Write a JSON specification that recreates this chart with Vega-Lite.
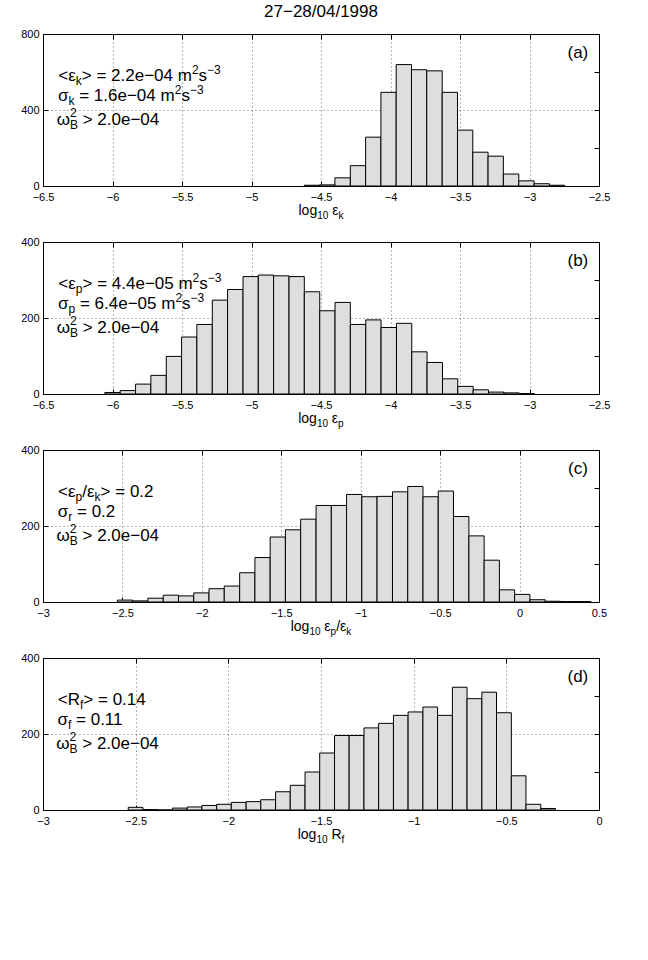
{
  "$schema": "https://vega.github.io/schema/vega-lite/v6.json",
  "background": "white",
  "padding": {"left": 12, "top": 2, "right": 10, "bottom": 10},
  "bounds": "flush",
  "spacing": 56,
  "config": {
    "font": "Liberation Sans",
    "view": {"stroke": "#000", "strokeWidth": 1},
    "axis": {
      "grid": true, "gridColor": "#000", "gridOpacity": 0.6, "gridDash": [1, 3], "gridWidth": 1,
      "domainColor": "#000", "domainWidth": 1,
      "tickColor": "#000", "tickSize": -5, "tickWidth": 1,
      "labelPadding": 9, "labelFont": "Liberation Sans", "labelFontSize": 11, "labelColor": "#000",
      "labelFlush": false, "labelOverlap": false, "labelBound": false
    },
    "axisX": {"labelPadding": 10},
    "text": {"font": "Liberation Sans", "fontSize": 17, "baseline": "alphabetic", "align": "left", "color": "#000"}
  },
  "datasets": {
    "a": [
      {"x0": -4.620, "x1": -4.510, "n": 4}, {"x0": -4.510, "x1": -4.400, "n": 6}, {"x0": -4.400, "x1": -4.289, "n": 43},
      {"x0": -4.289, "x1": -4.179, "n": 107}, {"x0": -4.179, "x1": -4.069, "n": 257}, {"x0": -4.069, "x1": -3.959, "n": 493},
      {"x0": -3.959, "x1": -3.849, "n": 639}, {"x0": -3.849, "x1": -3.739, "n": 612}, {"x0": -3.739, "x1": -3.628, "n": 606},
      {"x0": -3.628, "x1": -3.518, "n": 493}, {"x0": -3.518, "x1": -3.408, "n": 294}, {"x0": -3.408, "x1": -3.298, "n": 178},
      {"x0": -3.298, "x1": -3.188, "n": 157}, {"x0": -3.188, "x1": -3.077, "n": 63}, {"x0": -3.077, "x1": -2.967, "n": 27},
      {"x0": -2.967, "x1": -2.857, "n": 12}, {"x0": -2.857, "x1": -2.747, "n": 4}
    ],
    "b": [
      {"x0": -6.055, "x1": -5.945, "n": 4}, {"x0": -5.945, "x1": -5.834, "n": 9}, {"x0": -5.834, "x1": -5.724, "n": 26},
      {"x0": -5.724, "x1": -5.613, "n": 49}, {"x0": -5.613, "x1": -5.503, "n": 99}, {"x0": -5.503, "x1": -5.393, "n": 150},
      {"x0": -5.393, "x1": -5.282, "n": 183}, {"x0": -5.282, "x1": -5.172, "n": 247}, {"x0": -5.172, "x1": -5.061, "n": 275},
      {"x0": -5.061, "x1": -4.951, "n": 309}, {"x0": -4.951, "x1": -4.841, "n": 313}, {"x0": -4.841, "x1": -4.730, "n": 311},
      {"x0": -4.730, "x1": -4.620, "n": 309}, {"x0": -4.620, "x1": -4.509, "n": 269}, {"x0": -4.509, "x1": -4.399, "n": 219},
      {"x0": -4.399, "x1": -4.289, "n": 241}, {"x0": -4.289, "x1": -4.178, "n": 183}, {"x0": -4.178, "x1": -4.068, "n": 195},
      {"x0": -4.068, "x1": -3.957, "n": 175}, {"x0": -3.957, "x1": -3.847, "n": 186}, {"x0": -3.847, "x1": -3.737, "n": 111},
      {"x0": -3.737, "x1": -3.626, "n": 83}, {"x0": -3.626, "x1": -3.516, "n": 40}, {"x0": -3.516, "x1": -3.405, "n": 20},
      {"x0": -3.405, "x1": -3.295, "n": 11}, {"x0": -3.295, "x1": -3.185, "n": 5}, {"x0": -3.185, "x1": -3.074, "n": 3},
      {"x0": -3.074, "x1": -2.964, "n": 1}
    ],
    "c": [
      {"x0": -2.532, "x1": -2.436, "n": 5}, {"x0": -2.436, "x1": -2.340, "n": 3}, {"x0": -2.340, "x1": -2.243, "n": 10},
      {"x0": -2.243, "x1": -2.147, "n": 18}, {"x0": -2.147, "x1": -2.051, "n": 16}, {"x0": -2.051, "x1": -1.955, "n": 24},
      {"x0": -1.955, "x1": -1.859, "n": 35}, {"x0": -1.859, "x1": -1.762, "n": 42}, {"x0": -1.762, "x1": -1.666, "n": 77},
      {"x0": -1.666, "x1": -1.570, "n": 117}, {"x0": -1.570, "x1": -1.474, "n": 171}, {"x0": -1.474, "x1": -1.378, "n": 190},
      {"x0": -1.378, "x1": -1.281, "n": 218}, {"x0": -1.281, "x1": -1.185, "n": 254}, {"x0": -1.185, "x1": -1.089, "n": 254},
      {"x0": -1.089, "x1": -0.993, "n": 283}, {"x0": -0.993, "x1": -0.897, "n": 277}, {"x0": -0.897, "x1": -0.800, "n": 278},
      {"x0": -0.800, "x1": -0.704, "n": 290}, {"x0": -0.704, "x1": -0.608, "n": 304}, {"x0": -0.608, "x1": -0.512, "n": 277},
      {"x0": -0.512, "x1": -0.416, "n": 292}, {"x0": -0.416, "x1": -0.319, "n": 225}, {"x0": -0.319, "x1": -0.223, "n": 174},
      {"x0": -0.223, "x1": -0.127, "n": 110}, {"x0": -0.127, "x1": -0.031, "n": 32}, {"x0": -0.031, "x1": 0.065, "n": 20},
      {"x0": 0.065, "x1": 0.161, "n": 6}, {"x0": 0.161, "x1": 0.258, "n": 2}, {"x0": 0.258, "x1": 0.354, "n": 1},
      {"x0": 0.354, "x1": 0.450, "n": 1}
    ],
    "d": [
      {"x0": -2.540, "x1": -2.461, "n": 7}, {"x0": -2.461, "x1": -2.381, "n": 1}, {"x0": -2.381, "x1": -2.302, "n": 0},
      {"x0": -2.302, "x1": -2.222, "n": 5}, {"x0": -2.222, "x1": -2.143, "n": 8}, {"x0": -2.143, "x1": -2.063, "n": 12},
      {"x0": -2.063, "x1": -1.984, "n": 15}, {"x0": -1.984, "x1": -1.904, "n": 20}, {"x0": -1.904, "x1": -1.825, "n": 22},
      {"x0": -1.825, "x1": -1.745, "n": 27}, {"x0": -1.745, "x1": -1.666, "n": 48}, {"x0": -1.666, "x1": -1.586, "n": 65},
      {"x0": -1.586, "x1": -1.507, "n": 100}, {"x0": -1.507, "x1": -1.427, "n": 150}, {"x0": -1.427, "x1": -1.348, "n": 196},
      {"x0": -1.348, "x1": -1.268, "n": 196}, {"x0": -1.268, "x1": -1.189, "n": 216}, {"x0": -1.189, "x1": -1.109, "n": 228},
      {"x0": -1.109, "x1": -1.030, "n": 249}, {"x0": -1.030, "x1": -0.950, "n": 258}, {"x0": -0.950, "x1": -0.871, "n": 271},
      {"x0": -0.871, "x1": -0.791, "n": 249}, {"x0": -0.791, "x1": -0.712, "n": 323}, {"x0": -0.712, "x1": -0.632, "n": 293},
      {"x0": -0.632, "x1": -0.553, "n": 310}, {"x0": -0.553, "x1": -0.473, "n": 256}, {"x0": -0.473, "x1": -0.394, "n": 90},
      {"x0": -0.394, "x1": -0.314, "n": 15}, {"x0": -0.314, "x1": -0.235, "n": 4}
    ]
  },
  "vconcat": [
    {
      "width": 556, "height": 152,
      "title": {"text": "27−28/04/1998", "fontSize": 17, "fontWeight": "normal", "font": "Liberation Sans", "color": "#000", "offset": 7},
      "layer": [
        {
          "data": {"values": [{}]},
          "layer": [
            {
              "data": {"name": "a"},
              "mark": {"type": "rect", "fill": "#dedede", "stroke": "#000", "strokeWidth": 1},
              "encoding": {
                "x": {"field": "x0", "type": "quantitative", "scale": {"domain": [-6.5, -2.5], "nice": false, "zero": false},
                      "axis": {"values": [-6.5, -6, -5.5, -5, -4.5, -4, -3.5, -3, -2.5], "format": "~g", "title": null}},
                "x2": {"field": "x1"},
                "y": {"field": "n", "type": "quantitative", "scale": {"domain": [0, 800], "nice": false},
                      "axis": {"values": [0, 200, 400, 600, 800], "title": null, "minExtent": 30, "maxExtent": 30}},
                "y2": {"datum": 0}
              }
            },
            {
              "encoding": {"x": {"datum": -6.39}, "y": {"datum": 555}},
              "layer": [
                {"mark": {"type": "text", "text": "<ε", "align": "right", "dx": 17.5}},
                {"mark": {"type": "text", "text": "k", "fontSize": 12, "dx": 17.5, "dy": 4}},
                {"mark": {"type": "text", "text": "> = 2.2e−04 m", "dx": 23.5}},
                {"mark": {"type": "text", "text": "2", "fontSize": 12, "dx": 133.6, "dy": -7}},
                {"mark": {"type": "text", "text": "s", "dx": 140.3}},
                {"mark": {"type": "text", "text": "−3", "fontSize": 12, "dx": 148.8, "dy": -7}}
              ]
            },
            {
              "encoding": {"x": {"datum": -6.39}, "y": {"datum": 448}},
              "layer": [
                {"mark": {"type": "text", "text": "σ", "align": "right", "dx": 10.2}},
                {"mark": {"type": "text", "text": "k", "fontSize": 12, "dx": 10.2, "dy": 4}},
                {"mark": {"type": "text", "text": "= 1.6e−04 m", "dx": 20.9}},
                {"mark": {"type": "text", "text": "2", "fontSize": 12, "dx": 116.4, "dy": -7}},
                {"mark": {"type": "text", "text": "s", "dx": 123.1}},
                {"mark": {"type": "text", "text": "−3", "fontSize": 12, "dx": 131.6, "dy": -7}}
              ]
            },
            {
              "encoding": {"x": {"datum": -6.39}, "y": {"datum": 322}},
              "layer": [
                {"mark": {"type": "text", "text": "ω", "align": "right", "dx": 11.7}},
                {"mark": {"type": "text", "text": "B", "fontSize": 12, "dx": 11.7, "dy": 4}},
                {"mark": {"type": "text", "text": "2", "fontSize": 12, "dx": 11.7, "dy": -8}},
                {"mark": {"type": "text", "text": "> 2.0e−04", "dx": 24.4}}
              ]
            },
            {"mark": {"type": "text", "text": "(a)", "align": "center"}, "encoding": {"x": {"datum": -2.652}, "y": {"datum": 672}}},
            {
              "encoding": {"x": {"datum": -4.5}, "y": {"datum": -153}},
              "layer": [
                {"mark": {"type": "text", "text": "log", "fontSize": 14, "dx": -22.5}},
                {"mark": {"type": "text", "text": "10", "fontSize": 10, "dx": -3.8, "dy": 4}},
                {"mark": {"type": "text", "text": "ε", "fontSize": 14, "align": "right", "dx": 17.4}},
                {"mark": {"type": "text", "text": "k", "fontSize": 10, "dx": 17.4, "dy": 4}}
              ]
            }
          ]
        },
        {
          "data": {"name": "a"},
          "mark": {"type": "point", "opacity": 0},
          "encoding": {
            "x": {"field": "x0", "type": "quantitative", "axis": {"orient": "top", "values": [-6.5, -6, -5.5, -5, -4.5, -4, -3.5, -3, -2.5], "labels": false, "grid": false, "domain": false, "title": null}},
            "y": {"field": "n", "type": "quantitative", "axis": {"orient": "right", "values": [0, 200, 400, 600, 800], "labels": false, "grid": false, "domain": false, "title": null}}
          }
        }
      ],
      "resolve": {"axis": {"x": "independent", "y": "independent"}}
    },
    {
      "width": 556, "height": 152,
      "layer": [
        {
          "data": {"values": [{}]},
          "layer": [
            {
              "data": {"name": "b"},
              "mark": {"type": "rect", "fill": "#dedede", "stroke": "#000", "strokeWidth": 1},
              "encoding": {
                "x": {"field": "x0", "type": "quantitative", "scale": {"domain": [-6.5, -2.5], "nice": false, "zero": false},
                      "axis": {"values": [-6.5, -6, -5.5, -5, -4.5, -4, -3.5, -3, -2.5], "format": "~g", "title": null}},
                "x2": {"field": "x1"},
                "y": {"field": "n", "type": "quantitative", "scale": {"domain": [0, 400], "nice": false},
                      "axis": {"values": [0, 100, 200, 300, 400], "title": null, "minExtent": 30, "maxExtent": 30}},
                "y2": {"datum": 0}
              }
            },
            {
              "encoding": {"x": {"datum": -6.39}, "y": {"datum": 277}},
              "layer": [
                {"mark": {"type": "text", "text": "<ε", "align": "right", "dx": 17.5}},
                {"mark": {"type": "text", "text": "p", "fontSize": 12, "dx": 17.5, "dy": 4}},
                {"mark": {"type": "text", "text": "> = 4.4e−05 m", "dx": 24.2}},
                {"mark": {"type": "text", "text": "2", "fontSize": 12, "dx": 134.3, "dy": -7}},
                {"mark": {"type": "text", "text": "s", "dx": 141.0}},
                {"mark": {"type": "text", "text": "−3", "fontSize": 12, "dx": 149.5, "dy": -7}}
              ]
            },
            {
              "encoding": {"x": {"datum": -6.39}, "y": {"datum": 224}},
              "layer": [
                {"mark": {"type": "text", "text": "σ", "align": "right", "dx": 10.2}},
                {"mark": {"type": "text", "text": "p", "fontSize": 12, "dx": 10.2, "dy": 4}},
                {"mark": {"type": "text", "text": "= 6.4e−05 m", "dx": 21.6}},
                {"mark": {"type": "text", "text": "2", "fontSize": 12, "dx": 117.1, "dy": -7}},
                {"mark": {"type": "text", "text": "s", "dx": 123.8}},
                {"mark": {"type": "text", "text": "−3", "fontSize": 12, "dx": 132.3, "dy": -7}}
              ]
            },
            {
              "encoding": {"x": {"datum": -6.39}, "y": {"datum": 161}},
              "layer": [
                {"mark": {"type": "text", "text": "ω", "align": "right", "dx": 11.7}},
                {"mark": {"type": "text", "text": "B", "fontSize": 12, "dx": 11.7, "dy": 4}},
                {"mark": {"type": "text", "text": "2", "fontSize": 12, "dx": 11.7, "dy": -8}},
                {"mark": {"type": "text", "text": "> 2.0e−04", "dx": 24.4}}
              ]
            },
            {"mark": {"type": "text", "text": "(b)", "align": "center"}, "encoding": {"x": {"datum": -2.652}, "y": {"datum": 336}}},
            {
              "encoding": {"x": {"datum": -4.5}, "y": {"datum": -76}},
              "layer": [
                {"mark": {"type": "text", "text": "log", "fontSize": 14, "dx": -22.8}},
                {"mark": {"type": "text", "text": "10", "fontSize": 10, "dx": -4.1, "dy": 4}},
                {"mark": {"type": "text", "text": "ε", "fontSize": 14, "align": "right", "dx": 17.1}},
                {"mark": {"type": "text", "text": "p", "fontSize": 10, "dx": 17.1, "dy": 4}}
              ]
            }
          ]
        },
        {
          "data": {"name": "b"},
          "mark": {"type": "point", "opacity": 0},
          "encoding": {
            "x": {"field": "x0", "type": "quantitative", "axis": {"orient": "top", "values": [-6.5, -6, -5.5, -5, -4.5, -4, -3.5, -3, -2.5], "labels": false, "grid": false, "domain": false, "title": null}},
            "y": {"field": "n", "type": "quantitative", "axis": {"orient": "right", "values": [0, 100, 200, 300, 400], "labels": false, "grid": false, "domain": false, "title": null}}
          }
        }
      ],
      "resolve": {"axis": {"x": "independent", "y": "independent"}}
    },
    {
      "width": 556, "height": 152,
      "layer": [
        {
          "data": {"values": [{}]},
          "layer": [
            {
              "data": {"name": "c"},
              "mark": {"type": "rect", "fill": "#dedede", "stroke": "#000", "strokeWidth": 1},
              "encoding": {
                "x": {"field": "x0", "type": "quantitative", "scale": {"domain": [-3, 0.5], "nice": false, "zero": false},
                      "axis": {"values": [-3, -2.5, -2, -1.5, -1, -0.5, 0, 0.5], "format": "~g", "title": null}},
                "x2": {"field": "x1"},
                "y": {"field": "n", "type": "quantitative", "scale": {"domain": [0, 400], "nice": false},
                      "axis": {"values": [0, 100, 200, 300, 400], "title": null, "minExtent": 30, "maxExtent": 30}},
                "y2": {"datum": 0}
              }
            },
            {
              "encoding": {"x": {"datum": -2.905}, "y": {"datum": 277}},
              "layer": [
                {"mark": {"type": "text", "text": "<ε", "align": "right", "dx": 17.5}},
                {"mark": {"type": "text", "text": "p", "fontSize": 12, "dx": 17.5, "dy": 4}},
                {"mark": {"type": "text", "text": "/ε", "align": "right", "dx": 36.5}},
                {"mark": {"type": "text", "text": "k", "fontSize": 12, "dx": 36.5, "dy": 4}},
                {"mark": {"type": "text", "text": "> = 0.2", "dx": 42.5}}
              ]
            },
            {
              "encoding": {"x": {"datum": -2.905}, "y": {"datum": 224}},
              "layer": [
                {"mark": {"type": "text", "text": "σ", "align": "right", "dx": 10.2}},
                {"mark": {"type": "text", "text": "r", "fontSize": 12, "dx": 10.2, "dy": 4}},
                {"mark": {"type": "text", "text": "= 0.2", "dx": 18.9}}
              ]
            },
            {
              "encoding": {"x": {"datum": -2.905}, "y": {"datum": 161}},
              "layer": [
                {"mark": {"type": "text", "text": "ω", "align": "right", "dx": 11.7}},
                {"mark": {"type": "text", "text": "B", "fontSize": 12, "dx": 11.7, "dy": 4}},
                {"mark": {"type": "text", "text": "2", "fontSize": 12, "dx": 11.7, "dy": -8}},
                {"mark": {"type": "text", "text": "> 2.0e−04", "dx": 24.4}}
              ]
            },
            {"mark": {"type": "text", "text": "(c)", "align": "center"}, "encoding": {"x": {"datum": 0.367}, "y": {"datum": 336}}},
            {
              "encoding": {"x": {"datum": -1.25}, "y": {"datum": -76}},
              "layer": [
                {"mark": {"type": "text", "text": "log", "fontSize": 14, "dx": -30.3}},
                {"mark": {"type": "text", "text": "10", "fontSize": 10, "dx": -11.6, "dy": 4}},
                {"mark": {"type": "text", "text": "ε", "fontSize": 14, "align": "right", "dx": 9.6}},
                {"mark": {"type": "text", "text": "p", "fontSize": 10, "dx": 9.6, "dy": 4}},
                {"mark": {"type": "text", "text": "/ε", "fontSize": 14, "align": "right", "dx": 25.3}},
                {"mark": {"type": "text", "text": "k", "fontSize": 10, "dx": 25.3, "dy": 4}}
              ]
            }
          ]
        },
        {
          "data": {"name": "c"},
          "mark": {"type": "point", "opacity": 0},
          "encoding": {
            "x": {"field": "x0", "type": "quantitative", "axis": {"orient": "top", "values": [-3, -2.5, -2, -1.5, -1, -0.5, 0, 0.5], "labels": false, "grid": false, "domain": false, "title": null}},
            "y": {"field": "n", "type": "quantitative", "axis": {"orient": "right", "values": [0, 100, 200, 300, 400], "labels": false, "grid": false, "domain": false, "title": null}}
          }
        }
      ],
      "resolve": {"axis": {"x": "independent", "y": "independent"}}
    },
    {
      "width": 556, "height": 152,
      "layer": [
        {
          "data": {"values": [{}]},
          "layer": [
            {
              "data": {"name": "d"},
              "mark": {"type": "rect", "fill": "#dedede", "stroke": "#000", "strokeWidth": 1},
              "encoding": {
                "x": {"field": "x0", "type": "quantitative", "scale": {"domain": [-3, 0], "nice": false, "zero": false},
                      "axis": {"values": [-3, -2.5, -2, -1.5, -1, -0.5, 0], "format": "~g", "title": null}},
                "x2": {"field": "x1"},
                "y": {"field": "n", "type": "quantitative", "scale": {"domain": [0, 400], "nice": false},
                      "axis": {"values": [0, 100, 200, 300, 400], "title": null, "minExtent": 30, "maxExtent": 30}},
                "y2": {"datum": 0}
              }
            },
            {
              "encoding": {"x": {"datum": -2.92}, "y": {"datum": 277}},
              "layer": [
                {"mark": {"type": "text", "text": "<R", "dx": 0}},
                {"mark": {"type": "text", "text": "f", "fontSize": 12, "dx": 22.2, "dy": 4}},
                {"mark": {"type": "text", "text": "> = 0.14", "dx": 25.5}}
              ]
            },
            {
              "encoding": {"x": {"datum": -2.92}, "y": {"datum": 224}},
              "layer": [
                {"mark": {"type": "text", "text": "σ", "align": "right", "dx": 10.2}},
                {"mark": {"type": "text", "text": "f", "fontSize": 12, "dx": 10.2, "dy": 4}},
                {"mark": {"type": "text", "text": "= 0.11", "dx": 18.2}}
              ]
            },
            {
              "encoding": {"x": {"datum": -2.92}, "y": {"datum": 161}},
              "layer": [
                {"mark": {"type": "text", "text": "ω", "align": "right", "dx": 11.7}},
                {"mark": {"type": "text", "text": "B", "fontSize": 12, "dx": 11.7, "dy": 4}},
                {"mark": {"type": "text", "text": "2", "fontSize": 12, "dx": 11.7, "dy": -8}},
                {"mark": {"type": "text", "text": "> 2.0e−04", "dx": 24.4}}
              ]
            },
            {"mark": {"type": "text", "text": "(d)", "align": "center"}, "encoding": {"x": {"datum": -0.114}, "y": {"datum": 336}}},
            {
              "encoding": {"x": {"datum": -1.5}, "y": {"datum": -76}},
              "layer": [
                {"mark": {"type": "text", "text": "log", "fontSize": 14, "dx": -23.3}},
                {"mark": {"type": "text", "text": "10", "fontSize": 10, "dx": -4.6, "dy": 4}},
                {"mark": {"type": "text", "text": "R", "fontSize": 14, "dx": 10.4}},
                {"mark": {"type": "text", "text": "f", "fontSize": 10, "dx": 20.5, "dy": 4}}
              ]
            }
          ]
        },
        {
          "data": {"name": "d"},
          "mark": {"type": "point", "opacity": 0},
          "encoding": {
            "x": {"field": "x0", "type": "quantitative", "axis": {"orient": "top", "values": [-3, -2.5, -2, -1.5, -1, -0.5, 0], "labels": false, "grid": false, "domain": false, "title": null}},
            "y": {"field": "n", "type": "quantitative", "axis": {"orient": "right", "values": [0, 100, 200, 300, 400], "labels": false, "grid": false, "domain": false, "title": null}}
          }
        }
      ],
      "resolve": {"axis": {"x": "independent", "y": "independent"}}
    }
  ]
}
